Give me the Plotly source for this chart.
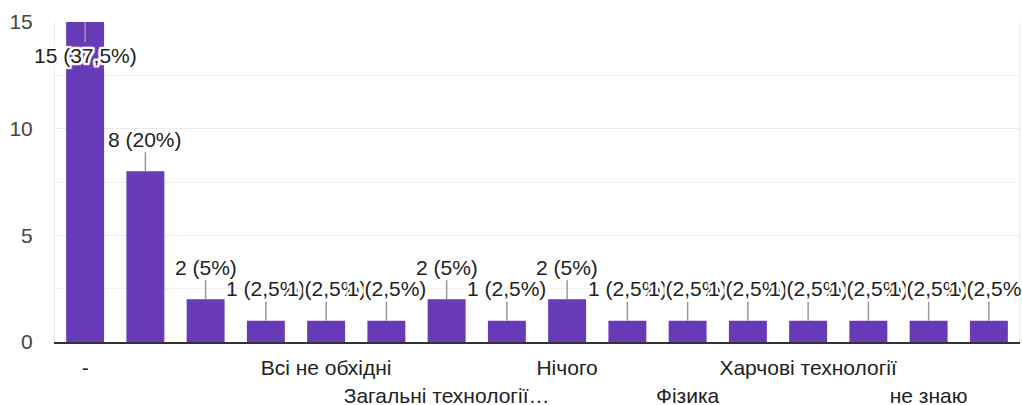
import plotly.graph_objects as go

# ---- data ----
labels = ["-", "", "П…", "", "Всі не обхідні", "", "Загальні технології…", "",
          "Нічого", "", "Фізика", "", "Харчові технології", "", "не знаю", ""]
values = [15, 8, 2, 1, 1, 1, 2, 1, 2, 1, 1, 1, 1, 1, 1, 1]
label_rows = [0, 0, 2, 0, 0, 0, 1, 0, 0, 0, 1, 0, 0, 0, 1, 0]
y_ticks = [0, 5, 10, 15]

total = sum(values)
x = list(range(len(values)))

def pct_text(v):
    p = v * 100 / total
    s = ("%g" % p).replace(".", ",")
    return f"{v} ({s}%)"

FONT = "Arial, 'Liberation Sans', sans-serif"
halo = ", ".join(f"{dx}px {dy}px 1px #fff" for dx in (-2, -1, 0, 1, 2) for dy in (-2, -1, 0, 1, 2) if dx or dy)

fig = go.Figure()
fig.add_trace(go.Bar(x=x, y=values, marker=dict(color="#673ab7", line=dict(width=0)),
                     hoverinfo="skip"))

ymax = 15
for xi, v in zip(x, values):
    inside = v >= ymax
    fig.add_annotation(
        x=xi, y=min(v, ymax), xref="x", yref="y",
        text=pct_text(v), showarrow=True, arrowhead=0, arrowwidth=1.5,
        arrowcolor="#999999", ax=0, ay=(33 if inside else -32),
        font=dict(family=FONT, size=21, color="#222222", shadow=halo),
    )

ticktext = ["<br>" * r + l for l, r in zip(labels, label_rows)]

fig.update_layout(
    width=1022, height=405,
    margin=dict(l=55, r=3, t=22, b=63, autoexpand=False),
    plot_bgcolor="white", paper_bgcolor="white",
    bargap=0.37, showlegend=False,
    font=dict(family=FONT, size=21, color="#222222"),
    xaxis=dict(range=[-0.5, len(values) - 0.5], tickmode="array", tickvals=x,
               ticktext=ticktext, showgrid=False, zeroline=False, automargin=False,
               showline=True, linecolor="#333333", linewidth=2,
               ticks="outside", ticklen=6, tickcolor="rgba(0,0,0,0)",
               tickfont=dict(family=FONT, size=21, color="#222222"), tickangle=0),
    yaxis=dict(range=[0, ymax], tickmode="array", tickvals=y_ticks, automargin=False,
               showgrid=True, gridcolor="#ebebeb", gridwidth=1,
               minor=dict(dtick=2.5, showgrid=True, gridcolor="#f0f0f0", gridwidth=1),
               zeroline=False, showline=True, linecolor="#ebebeb", linewidth=1, mirror=True,
               ticks="outside", ticklen=17, tickcolor="rgba(0,0,0,0)",
               tickfont=dict(family=FONT, size=21, color="#444444")),
)

fig.write_html("out.html", config={"displayModeBar": False},
               post_script="document.body.style.margin='0';document.body.style.overflow='hidden';")
